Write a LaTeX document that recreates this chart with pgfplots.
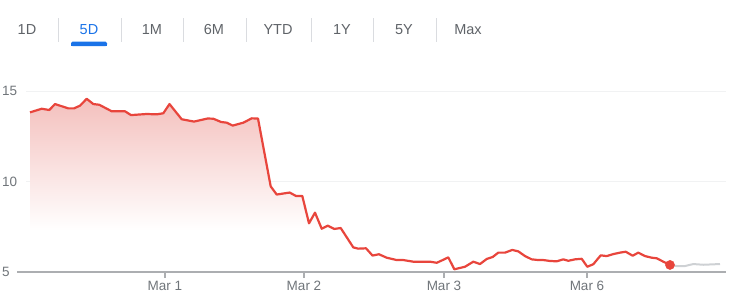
\documentclass[border=0pt]{standalone}
\usepackage{pgfplots}
\pgfplotsset{compat=1.18}
\usepackage{pgfplotstable}
\usepackage{fontspec}
\setmainfont{Liberation Sans}
\definecolor{lineRed}{RGB}{232,69,60}
\definecolor{tabGray}{RGB}{95,99,104}
\definecolor{labelGray}{RGB}{112,117,122}
\definecolor{tabBlue}{RGB}{26,115,232}
\definecolor{sepGray}{RGB}{218,220,224}
\definecolor{baseGray}{RGB}{172,174,177}
\definecolor{gridGray}{RGB}{241,242,243}
\definecolor{afterGray}{RGB}{206,209,212}
\definecolor{fillTop}{RGB}{244,192,189}
\pgfdeclareverticalshading{pricefade}{100bp}{color(0bp)=(white); color(37bp)=(white); color(75bp)=(fillTop); color(100bp)=(fillTop)}

\pgfplotstableread{
x y
30 13.82
41.7 14.02
49.3 13.95
55 14.28
68.3 14.04
74 14.04
80 14.19
86.7 14.57
93.3 14.28
99.3 14.24
111.7 13.88
125 13.88
131 13.67
146.7 13.73
156.7 13.71
163.3 13.77
169.5 14.28
181.7 13.44
194 13.31
207.5 13.48
213.3 13.47
221 13.29
226.7 13.25
232.7 13.09
243.3 13.25
251.7 13.49
258 13.48
270.7 9.73
276.7 9.28
289.7 9.39
296 9.20
302.3 9.20
309 7.69
315 8.28
321.7 7.39
327.7 7.56
334.3 7.38
340.7 7.43
353.3 6.36
358.3 6.29
366 6.31
372.5 5.91
379 5.98
386.7 5.79
396.7 5.66
403.3 5.66
413.3 5.57
430 5.57
436.7 5.51
442.7 5.66
448.3 5.81
454.3 5.15
465 5.29
473.3 5.57
480 5.44
486.7 5.72
492.7 5.83
498.3 6.07
505 6.07
512.3 6.22
518.3 6.14
525 5.88
531.7 5.70
538.3 5.66
543.3 5.66
550 5.61
556.7 5.59
563.3 5.70
568.3 5.62
575 5.70
581.7 5.73
587.3 5.29
593.3 5.43
600.7 5.92
606.7 5.88
613.3 5.99
620 6.07
625.7 6.12
632.7 5.90
638.3 6.07
645 5.88
651.7 5.79
656.7 5.76
663.3 5.57
670 5.39
}\pricedata

\pgfplotstableread{
x y
670 5.39
676.7 5.33
685 5.33
693.3 5.44
703.3 5.40
720 5.44
}\afterdata

\begin{document}
\begin{tikzpicture}
\path[use as bounding box] (0,-29pt) rectangle (739pt,272pt);
% range tabs
\foreach \x/\t in {27/1D,152/1M,214/6M,278/YTD,342/1Y,404/5Y,468/Max}
  \node[text=tabGray, font=\fontsize{14.5}{16}\selectfont, inner sep=0pt] at (\x pt,242pt) {\t};
\node[text=tabBlue, font=\fontsize{14.5}{16}\selectfont, inner sep=0pt] at (89pt,242pt) {5D};
\foreach \x in {58,121,183,246,311,373,436}
  \draw[sepGray, line width=1pt] (\x pt,254pt) -- (\x pt,230pt);
\fill[tabBlue, rounded corners=1.5pt] (71pt,226pt) rectangle (107pt,230.5pt);
\fill[tabBlue] (71pt,226pt) rectangle (107pt,228pt);

\begin{axis}[
  at={(0,0)}, anchor=south west,
  scale only axis, width=739pt, height=272pt,
  xmin=0, xmax=739, ymin=5, ymax=20.028,
  axis line style={draw=none},
  xtick={165,304,444,587},
  xticklabels={Mar 1,Mar 2,Mar 3,Mar 6},
  ytick={5,10,15},
  tick align=outside,
  xtick pos=lower, ytick pos=left,
  major tick length=6pt,
  x tick style={baseGray, line width=1.2pt},
  y tick style={draw=none},
  tick label style={font=\fontsize{13.5}{15}\selectfont, text=labelGray},
  yticklabel style={anchor=west, inner sep=0pt, xshift=8pt},
  /pgf/number format/assume math mode=true,
]
\draw[gridGray, line width=1pt] (axis cs:26,15) -- (axis cs:726,15);
\draw[gridGray, line width=1pt] (axis cs:26,10) -- (axis cs:726,10);

\addplot[draw=none, shade, shading=pricefade] table[x=x,y=y] {\pricedata} \closedcycle;

\draw[baseGray, line width=1.5pt] (axis cs:17,5) -- (axis cs:726,5);

\addplot[afterGray, line width=2pt, line join=round] table[x=x,y=y] {\afterdata};
\addplot[lineRed, line width=2.2pt, line join=round, mark=none] table[x=x,y=y] {\pricedata};
\addplot[only marks, mark=*, mark size=4.6pt, lineRed, mark options={fill=lineRed, draw=lineRed}] coordinates {(670,5.39)};
\end{axis}
\end{tikzpicture}
\end{document}
